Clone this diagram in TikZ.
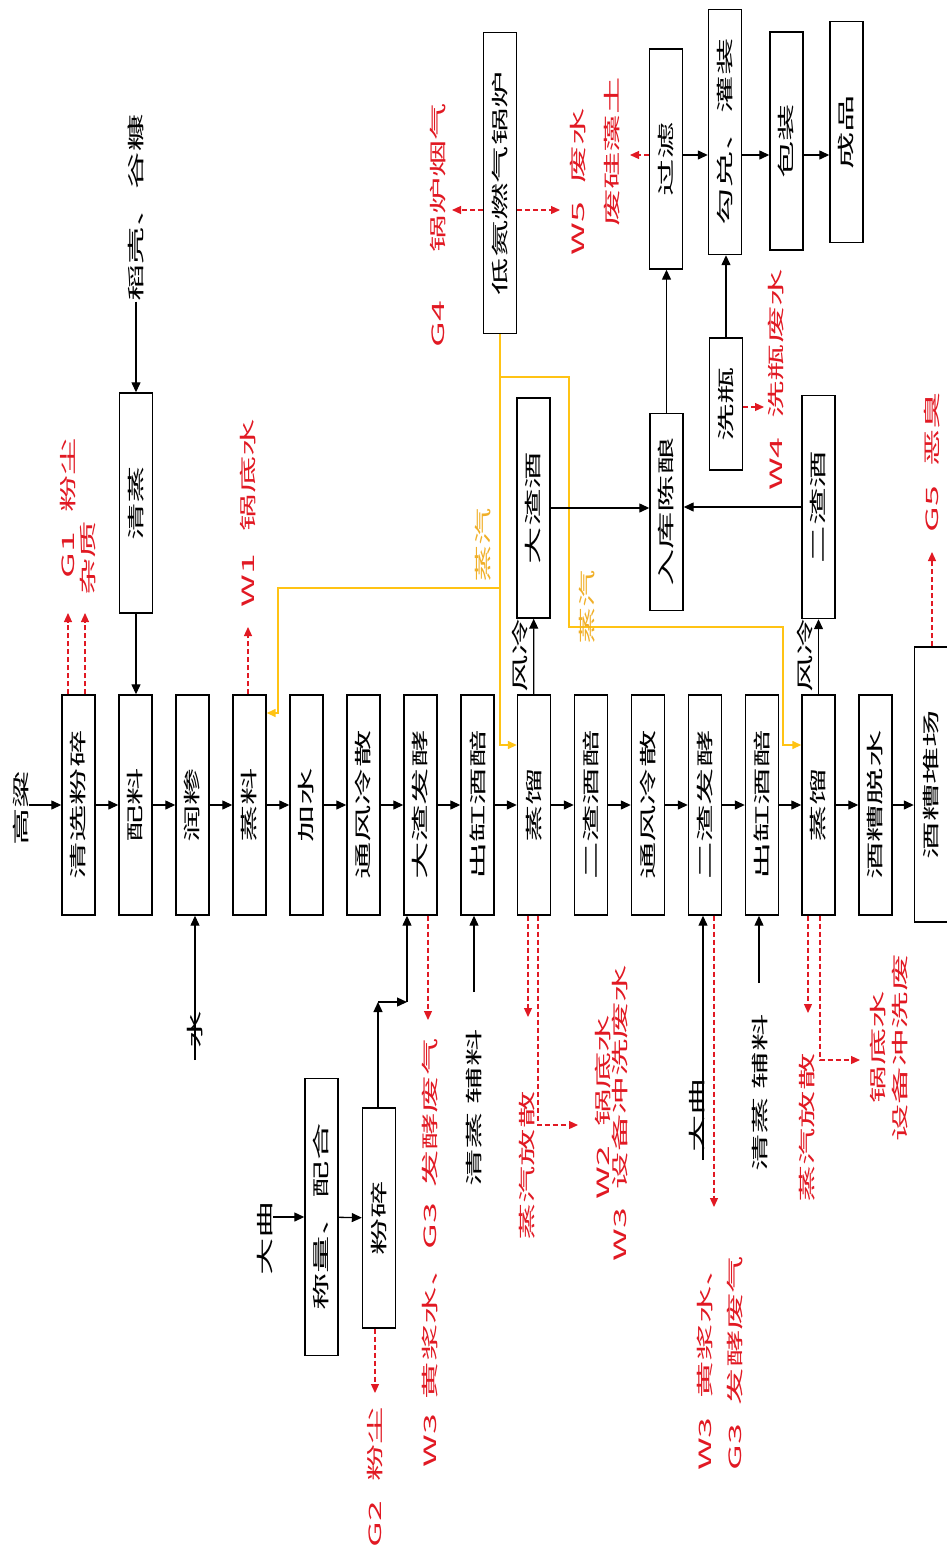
\documentclass[tikz,border=0pt]{standalone}
\usepackage{fontspec}
\setmainfont{Noto Sans CJK SC}
\usepackage{tikz}
\usetikzlibrary{arrows.meta}
\definecolor{dred}{RGB}{225,25,35}
\definecolor{steamc}{RGB}{255,195,20}
\definecolor{steamt}{RGB}{240,175,40}
\newcommand{\vt}[1]{\rotatebox{90}{\scalebox{2.2}[1]{#1}}}
\tikzset{
  blk/.style={draw, line width=1.4pt, minimum width=33pt, inner sep=0pt},
  lab/.style={inner sep=0pt},
  rlab/.style={inner sep=0pt, text=dred},
  flow/.style={-{Triangle[length=10pt,width=9pt]}, line width=1.3pt},
  emit/.style={-{Triangle[length=9pt,width=8pt]}, dred, dash pattern=on 5pt off 3pt, line width=1.2pt},
  steam/.style={draw=steamc, line width=1.5pt, -{Triangle[length=9pt,width=8pt]}},
}

\begin{document}
\begin{tikzpicture}[x=1pt, y=-1pt, font=\fontsize{17}{19}\selectfont]
	\useasboundingbox (0,0) rectangle (947,1556);
	
	% main line
	\foreach \nm/\tx/\xx in {qx/清选粉碎/78.5, pl/配料/135.5, rs/润糁/192.5, zl/蒸料/249.5, js/加水/306.5, tf1/通风冷散/363.5, dfj/大渣发酵/420.5, cg1/出缸酒醅/477.5, zq1/蒸馏/534, ezp/二渣酒醅/591, tf2/通风冷散/648, efj/二渣发酵/705, cg2/出缸酒醅/762, zq2/蒸馏/818.5, ts/酒糟脱水/875.5}
		\node[blk, minimum height=220pt] (\nm) at (\xx,805) {\vt{\tx}};
	\node[blk, minimum height=275pt] (dc) at (931,784.5) {\vt{酒糟堆场}};
	\node[lab] (gaol) at (21,808) {\vt{高粱}};
	
	\foreach \a/\b in {qx/pl, pl/rs, rs/zl, zl/js, js/tf1, tf1/dfj, dfj/cg1, cg1/zq1, zq1/ezp, ezp/tf2, tf2/efj, efj/cg2, cg2/zq2, zq2/ts}
		\draw[flow] (\a) -- (\b);
	\draw[flow] (gaol.east |- qx) -- (qx);
	\draw[flow] (ts.east) -- (ts.east -| dc.west);
	
	% husk feed
	\node[lab] (dk) at (136,208) {\vt{稻壳、谷糠}};
	\node[blk, minimum height=220pt] (qz) at (136,503) {\vt{清蒸}};
	\draw[flow] (dk) -- (qz);
	\draw[flow] (qz) -- (qz |- pl.north);
	
	% G1, W1
	\coordinate (g1a) at (68,613);
	\coordinate (g1b) at (85,613);
	\draw[emit] (qx.north -| g1a) -- (g1a);
	\draw[emit] (qx.north -| g1b) -- (g1b);
	\node[rlab] (g1) at (68,508) {\vt{G1\hspace{0.5em}粉尘}};
	\node[rlab] (zz) at (88,558) {\vt{杂质}};
	\coordinate (w1a) at (248,627);
	\draw[emit] (zl.north -| w1a) -- (w1a);
	\node[rlab] (w1) at (248,513) {\vt{W1\hspace{0.6em}锅底水}};
	
	% boiler
	\node[blk, minimum height=301pt] (lb) at (500,183) {\vt{低氮燃气锅炉}};
	\coordinate (g4a) at (452,210);
	\coordinate (w5a) at (560,210);
	\draw[emit] (lb.west |- g4a) -- (g4a);
	\draw[emit] (lb.east |- w5a) -- (w5a);
	\node[rlab] (g4) at (438,225) {\vt{G4\hspace{1.3em}锅炉烟气}};
	\node[rlab] (w5) at (578,182) {\vt{W5\hspace{0.5em}废水}};
	
	% steam
	\coordinate (j1) at (500,588);
	\coordinate (j2) at (278,713);
	\coordinate (j3) at (500,377);
	\coordinate (j4) at (569,627);
	\coordinate (j5) at (783,745);
	\coordinate (j6) at (500,745);
	\draw[steam] (lb.south) -- (j6) -- (j6 -| zq1.west);
	\draw[steam] (j1) -| (j2) -- (j2 -| zl.east);
	\draw[steam] (j3) -| (j4) -| (j5) -- (j5 -| zq2.west);
	\node[lab, text=steamt] (st1) at (483,545) {\vt{蒸汽}};
	\node[lab, text=steamt] (st2) at (587,607) {\vt{蒸汽}};
	
	% liquor
	\node[blk, minimum height=220pt] (dzj) at (533.5,508) {\vt{大渣酒}};
	\node[blk, minimum height=223pt] (ezj) at (818.5,507) {\vt{二渣酒}};
	\node[blk, minimum height=197pt] (rk) at (666.5,512) {\vt{入库陈酿}};
	\draw[flow] (zq1) -- (dzj);
	\draw[flow] (zq2) -- (ezj);
	\node[lab] (fl1) at (520,655) {\vt{风冷}};
	\node[lab] (fl2) at (805,655) {\vt{风冷}};
	\draw[flow] (dzj) -- (dzj -| rk.west);
	\draw[flow] (ezj) -- (ezj -| rk.east);
	
	% bottling
	\node[blk, minimum height=220pt] (guol) at (666,159) {\vt{过滤}};
	\node[blk, minimum height=245pt] (gd) at (725,132) {\vt{勾兑、灌装}};
	\node[blk, minimum height=218pt] (bz) at (786.5,141) {\vt{包装}};
	\node[blk, minimum height=221pt] (cp) at (846.5,132) {\vt{成品}};
	\node[blk, minimum height=132pt] (xp) at (726,404) {\vt{洗瓶}};
	\coordinate (row) at (700,155);
	\draw[flow] (guol.east |- row) -- (gd.west |- row);
	\draw[flow] (gd.east |- row) -- (bz.west |- row);
	\draw[flow] (bz.east |- row) -- (cp.west |- row);
	\draw[flow] (rk) -- (rk |- guol.south);
	\draw[flow] (xp) -- (xp |- gd.south);
	\coordinate (gzt) at (630,155);
	\draw[emit] (guol.west |- gzt) -- (gzt);
	\node[rlab] (gz) at (612,152) {\vt{废硅藻土}};
	\coordinate (w4a) at (764,407);
	\draw[emit] (xp.east |- w4a) -- (w4a);
	\node[rlab] (w4) at (776,380) {\vt{W4\hspace{0.5em}洗瓶废水}};
	
	% G5
	\coordinate (g5a) at (932,552);
	\draw[emit] (dc.north -| g5a) -- (g5a);
	\node[rlab] (g5) at (932,462) {\vt{G5\hspace{0.5em}恶臭}};
	
	% water
	\node[lab] (sh) at (195,1030) {\vt{水}};
	\coordinate (sh0) at (195,1060);
	\draw[flow] (sh0) -- (sh0 |- rs.south);
	
	% daqu
	\node[lab] (dq1) at (265,1238) {\vt{大曲}};
	\node[blk, minimum height=277pt] (cl) at (321.5,1217) {\vt{称量、配合}};
	\node[blk, minimum height=220pt] (fs) at (379,1218) {\vt{粉碎}};
	\draw[flow] (cl.west -| dq1.east) -- (cl.west);
	\draw[flow] (cl) -- (fs);
	\coordinate (c1) at (378,1002);
	\coordinate (c2) at (407,1002);
	\draw[flow] (fs.north -| c1) -- (c1);
	\draw[flow] (c1) -- (c2);
	\draw[flow] (c2) -- (c2 |- dfj.south);
	\coordinate (g2a) at (375,1393);
	\draw[emit] (fs.south -| g2a) -- (g2a);
	\node[rlab] (g2) at (375,1477) {\vt{G2\hspace{0.5em}粉尘}};
	
	% first round
	\coordinate (w3a) at (428,1020);
	\draw[emit] (dfj.south -| w3a) -- (w3a);
	\node[rlab] (w3g3) at (430,1253) {\vt{W3\hspace{0.4em}黄浆水、G3\hspace{0.4em}发酵废气}};
	\node[lab] (fla) at (474,1108) {\vt{清蒸\hspace{0.2em}辅料}};
	\coordinate (fa0) at (474,992);
	\draw[flow] (fa0) -- (fa0 |- cg1.south);
	\coordinate (zq1a) at (528,1017);
	\coordinate (zq1b) at (538,1125);
	\coordinate (zq1c) at (578,1125);
	\draw[emit] (zq1.south -| zq1a) -- (zq1a);
	\draw[emit] (zq1.south -| zq1b) |- (zq1c);
	\node[rlab] (fsa) at (527,1166) {\vt{蒸汽放散}};
	\node[rlab] (w2) at (603,1107) {\vt{W2\hspace{0.5em}锅底水}};
	\node[rlab] (w3b) at (620,1113) {\vt{W3\hspace{0.5em}设备冲洗废水}};
	
	% second round
	\node[lab] (dq2) at (697,1115) {\vt{大曲}};
	\coordinate (dq2a) at (703,1160);
	\draw[flow] (dq2a) -- (dq2a |- efj.south);
	\coordinate (w3c) at (714,1207);
	\draw[emit] (efj.south -| w3c) -- (w3c);
	\node[rlab] (w3d) at (705,1360) {\vt{W3\hspace{0.5em}黄浆水、}};
	\node[rlab] (g3b) at (735,1363) {\vt{G3\hspace{0.5em}发酵废气}};
	\node[lab] (flb) at (760,1093) {\vt{清蒸\hspace{0.2em}辅料}};
	\coordinate (fb0) at (759,983);
	\draw[flow] (fb0) -- (fb0 |- cg2.south);
	\coordinate (zq2a) at (808,1013);
	\coordinate (zq2b) at (820,1060);
	\coordinate (zq2c) at (860,1060);
	\draw[emit] (zq2.south -| zq2a) -- (zq2a);
	\draw[emit] (zq2.south -| zq2b) |- (zq2c);
	\node[rlab] (fsb) at (807,1128) {\vt{蒸汽放散}};
	\node[rlab] (gds) at (878,1047) {\vt{锅底水}};
	\node[rlab] (sbc) at (900,1048) {\vt{设备冲洗废}};
\end{tikzpicture}
\end{document}
